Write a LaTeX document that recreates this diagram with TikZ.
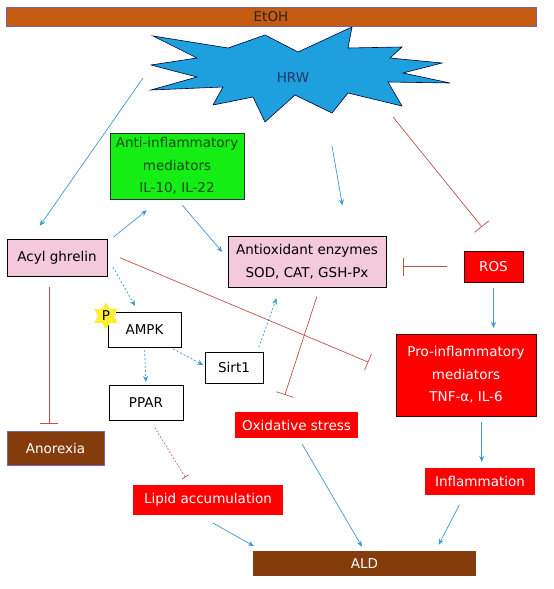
\documentclass[tikz,border=0pt]{standalone}
\usepackage{fontspec}
\setmainfont{DejaVu Sans}
\usetikzlibrary{positioning, arrows.meta, shapes.geometric}
\definecolor{actblue}{HTML}{3A9AD2}
\definecolor{inhred}{HTML}{C0504D}
\definecolor{etohfill}{HTML}{C55A11}
\definecolor{purpleedge}{HTML}{8064A2}
\definecolor{hrwfill}{HTML}{1EA0DF}
\definecolor{hrwtext}{HTML}{1F3864}
\definecolor{antigreen}{HTML}{14EE14}
\definecolor{antitext}{HTML}{1A4A1A}
\definecolor{ghrelinpink}{HTML}{F3C9DB}
\definecolor{alarmred}{HTML}{FF0000}
\definecolor{liverbrown}{HTML}{843C0C}
\definecolor{phosyellow}{HTML}{FFEE33}

\tikzset{
  base/.style={inner sep=0pt, outer sep=0pt, align=center,
    font=\fontsize{13.5}{22.5}\selectfont, line width=0.6pt},
  plainbox/.style={base, draw=black, fill=white},
  pinkbox/.style={base, draw=black, fill=ghrelinpink},
  greenbox/.style={base, draw=black!80, fill=antigreen, text=antitext},
  redbox/.style={base, draw=black!75!red, fill=alarmred, text=white},
  redflat/.style={base, fill=alarmred, text=white},
  brownbox/.style={base, fill=liverbrown, text=white},
  act/.style={draw=actblue, line width=0.7pt, -{Stealth[length=6pt,width=5pt]}},
  actdash/.style={act, dash pattern=on 2pt off 2pt},
  inh/.style={draw=inhred, line width=0.7pt, -{Bar[width=18pt,line width=0.7pt]}},
  inhdot/.style={draw=inhred, line width=0.7pt, dash pattern=on 1.5pt off 2pt,
    -{Bar[width=8pt,line width=0.7pt]}}
}

\begin{document}
\begin{tikzpicture}[x=1pt, y=-1pt]
\useasboundingbox (0,0) rectangle (554,589);

% top bar and the HRW burst
\node[brownbox, fill=etohfill, draw=purpleedge, text=black!85,
  minimum width=530pt, minimum height=19pt] at (271,16.5) (etoh) {EtOH};
\draw[fill=hrwfill, draw=black!80!blue, line width=0.6pt]
  (153,36) -- (228,48) -- (265,35) -- (298,52) -- (352,27) -- (348,48)
  -- (402,47) -- (390,58) -- (442,63) -- (403,73) -- (450,83) -- (388,82)
  -- (402,106) -- (348,93) -- (332,113) -- (295,95) -- (265,122) -- (253,97)
  -- (213,105) -- (223,87) -- (151,90) -- (197,77) -- (151,65) -- (197,58)
  -- cycle;
\node[base, text=hrwtext] at (293,78) (hrw) {HRW};
\coordinate (hrwW) at (143,78);
\coordinate (hrwS) at (332,146);
\coordinate (hrwE) at (393,117);

% boxes
\node[greenbox, minimum width=134pt, minimum height=66pt] at (177,166) (anti)
  {Anti-inflammatory\\mediators\\IL-10, IL-22};
\node[pinkbox, minimum width=100pt, minimum height=37pt] at (57,257.5) (acyl) {Acyl ghrelin};
\node[pinkbox, minimum width=158pt, minimum height=51pt] at (307,261.5) (antiox)
  {Antioxidant enzymes\\SOD, CAT, GSH-Px};
\node[redbox, minimum width=59pt, minimum height=31pt] at (493.5,266.5) (ros) {ROS};
\node[redbox, minimum width=140pt, minimum height=82pt] at (466,375) (proinf)
  {Pro-inflammatory\\mediators\\TNF-α, IL-6};
\node[plainbox, minimum width=73pt, minimum height=35pt] at (144.5,329.5) (ampk) {AMPK};
\node[plainbox, minimum width=58pt, minimum height=31pt] at (234,367.5) (sirt) {Sirt1};
\node[plainbox, minimum width=74pt, minimum height=35pt] at (146,402.5) (ppar) {PPAR};
\node[brownbox, draw=purpleedge, minimum width=97pt, minimum height=34pt] at (55.5,448) (anorexia) {Anorexia};
\node[redflat, minimum width=123pt, minimum height=26pt] at (296.5,425) (oxstress) {Oxidative stress};
\node[redflat, minimum width=110pt, minimum height=27pt] at (480,481.5) (inflam) {Inflammation};
\node[redflat, minimum width=150pt, minimum height=30pt] at (208,500) (lipid) {Lipid accumulation};
\node[brownbox, minimum width=223pt, minimum height=25pt] at (364.5,563.5) (ald) {ALD};
\node[base, star, star points=6, star point ratio=1.7, minimum size=27pt,
  fill=phosyellow] at (106,316) (phos) {P};

% connectors
\draw[act, shorten >=16pt] (hrwW) -- (acyl.145);
\draw[act, shorten >=31pt] (hrwS) -- (antiox.32);
\draw[inh, shorten >=31pt] (hrwE) -- (ros.63);
\draw[act, shorten <=8pt, shorten >=18pt] (acyl.17) -- (anti.244);
\draw[act, shorten <=8pt, shorten >=9pt] (anti.south) -- (antiox.178);
\draw[inh, shorten <=14pt, shorten >=30pt] (acyl.6) -- (proinf.179);
\draw[actdash, shorten <=12pt, shorten >=7pt] (acyl.1) -- (ampk.109);
\draw[actdash, shorten <=4pt, shorten >=2pt] (ampk.325) -- (sirt.177);
\draw[actdash, shorten <=3pt, shorten >=3pt] (ampk.south) -- (ppar.north);
\draw[actdash, shorten <=5pt, shorten >=12pt] (sirt.34) -- (antiox.224);
\draw[inh, shorten <=10pt, shorten >=18pt] (antiox.297) -- (oxstress.143);
\draw[inh, shorten <=17pt, shorten >=17pt] (ros.west) -- (ros.west -| antiox.east);
\draw[act, shorten <=6pt, shorten >=6pt] (ros.south) -- (ros.south |- proinf.north);
\draw[inh, shorten <=11pt, shorten >=7pt] (acyl.247) -- (acyl.247 |- anorexia.north);
\draw[inhdot, shorten <=9pt, shorten >=9pt] (ppar.283) -- (lipid.140);
\draw[act, shorten <=6pt, shorten >=6pt] (proinf.291) -- (proinf.291 |- inflam.north);
\draw[act, shorten <=7pt, shorten >=5pt] (oxstress.279) -- (ald.north);
\draw[act, shorten <=16pt, shorten >=10pt] (lipid.238) -- (ald.173);
\draw[act, shorten <=11pt, shorten >=7pt] (inflam.221) -- (ald.10);
\end{tikzpicture}
\end{document}
